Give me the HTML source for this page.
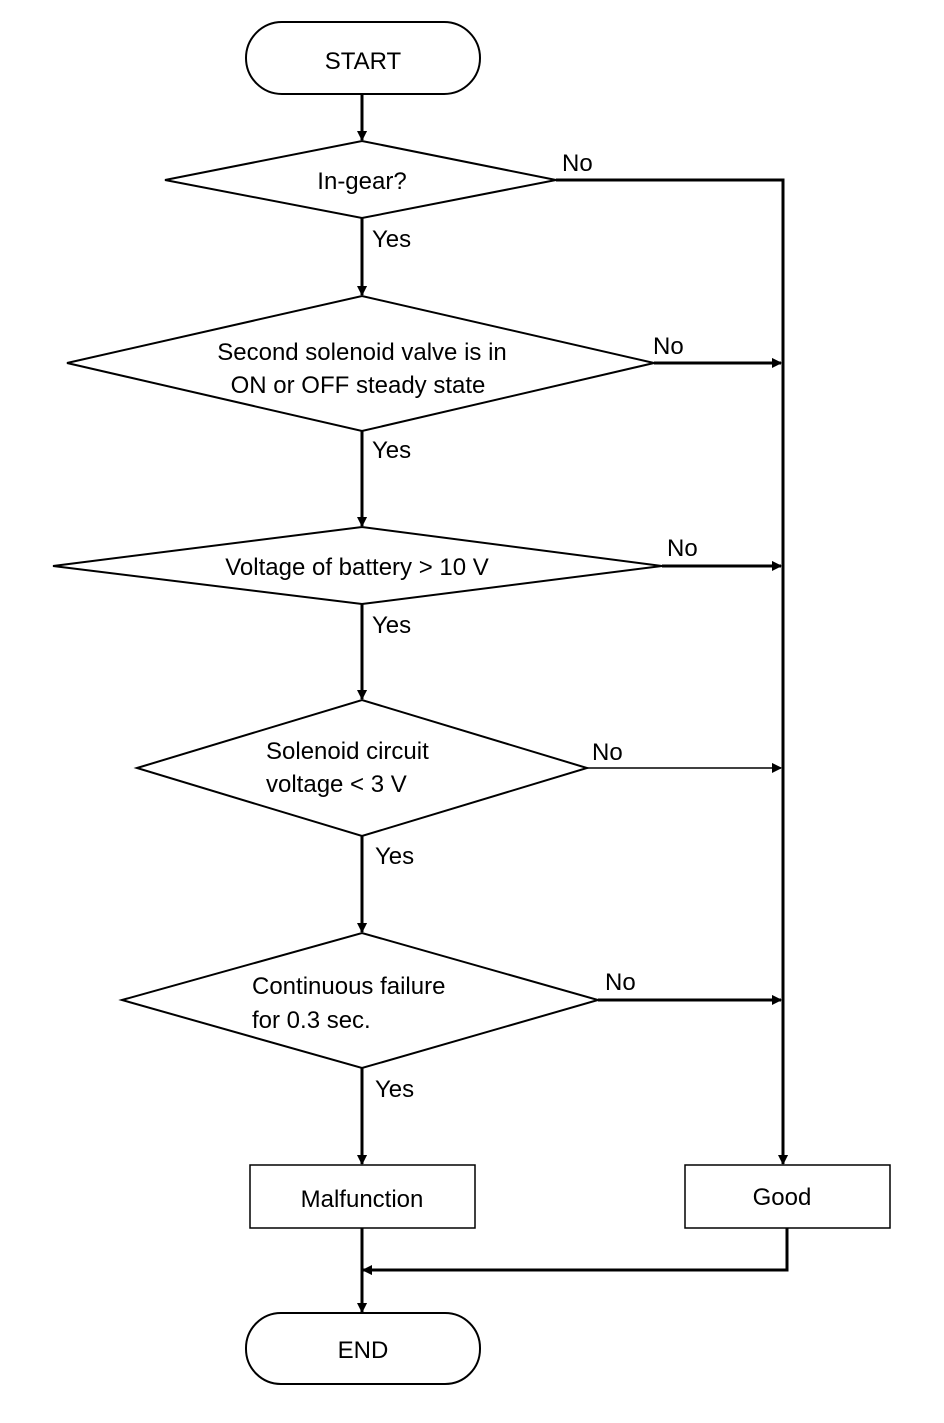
<!DOCTYPE html>
<html><head><meta charset="utf-8"><style>
html,body{margin:0;padding:0;background:#fff;}
svg text{font-family:"Liberation Sans",Arial,sans-serif;font-size:24px;fill:#000;}
</style></head><body>
<svg width="944" height="1418" viewBox="0 0 944 1418" xmlns="http://www.w3.org/2000/svg">
<defs>
<marker id="a" markerWidth="10" markerHeight="10" refX="9" refY="5" orient="auto" markerUnits="userSpaceOnUse">
<path d="M0,0 L10,5 L0,10 z" fill="#000" transform="scale(1.6) translate(-3.7,-1.9)"/>
</marker>
</defs>
<g stroke="#000" fill="none">
<rect x="246" y="22" width="234" height="72" rx="36" stroke-width="2"/>
<rect x="246" y="1313" width="234" height="71" rx="35" stroke-width="2"/>
<rect x="250" y="1165" width="225" height="63" stroke-width="1.5"/>
<rect x="685" y="1165" width="205" height="63" stroke-width="1.5"/>
<polygon points="165,180 362,141 556,180 362,218" stroke-width="2"/>
<polygon points="67,363 362,296 654,363 362,431" stroke-width="2"/>
<polygon points="53,566 362,527 662,566 362,604" stroke-width="2"/>
<polygon points="137,768 362,700 587,768 362,836" stroke-width="2"/>
<polygon points="122,1000 362,933 598,1000 362,1068" stroke-width="2"/>
<g stroke-width="3">
<line x1="362" y1="94" x2="362" y2="140" marker-end="url(#a)"/>
<line x1="362" y1="218" x2="362" y2="295" marker-end="url(#a)"/>
<line x1="362" y1="431" x2="362" y2="526" marker-end="url(#a)"/>
<line x1="362" y1="604" x2="362" y2="699" marker-end="url(#a)"/>
<line x1="362" y1="836" x2="362" y2="932" marker-end="url(#a)"/>
<line x1="362" y1="1068" x2="362" y2="1164" marker-end="url(#a)"/>
<line x1="362" y1="1228" x2="362" y2="1312" marker-end="url(#a)"/>
<polyline points="556,180 783,180 783,1164" marker-end="url(#a)"/>
<line x1="654" y1="363" x2="781" y2="363" marker-end="url(#a)"/>
<line x1="662" y1="566" x2="781" y2="566" marker-end="url(#a)"/>
<line x1="598" y1="1000" x2="781" y2="1000" marker-end="url(#a)"/>
<polyline points="787,1228 787,1270 363,1270" marker-end="url(#a)"/>
</g>
<line x1="587" y1="768" x2="781" y2="768" stroke-width="1.5" marker-end="url(#a)"/>
</g>
<g text-anchor="middle">
<text x="363" y="69">START</text>
<text x="363" y="1358">END</text>
<text x="362" y="1207">Malfunction</text>
<text x="782" y="1205">Good</text>
<text x="362" y="189">In-gear?</text>
<text x="362" y="360">Second solenoid valve is in</text>
<text x="358" y="393">ON or OFF steady state</text>
<text x="357" y="575">Voltage of battery &gt; 10 V</text>
</g>
<text x="266" y="759">Solenoid circuit</text>
<text x="266" y="792">voltage &lt; 3 V</text>
<text x="252" y="994">Continuous failure</text>
<text x="252" y="1028">for 0.3 sec.</text>
<text x="372" y="247">Yes</text>
<text x="372" y="458">Yes</text>
<text x="372" y="633">Yes</text>
<text x="375" y="864">Yes</text>
<text x="375" y="1097">Yes</text>
<text x="562" y="171">No</text>
<text x="653" y="354">No</text>
<text x="667" y="556">No</text>
<text x="592" y="760">No</text>
<text x="605" y="990">No</text>
</svg>
</body></html>
